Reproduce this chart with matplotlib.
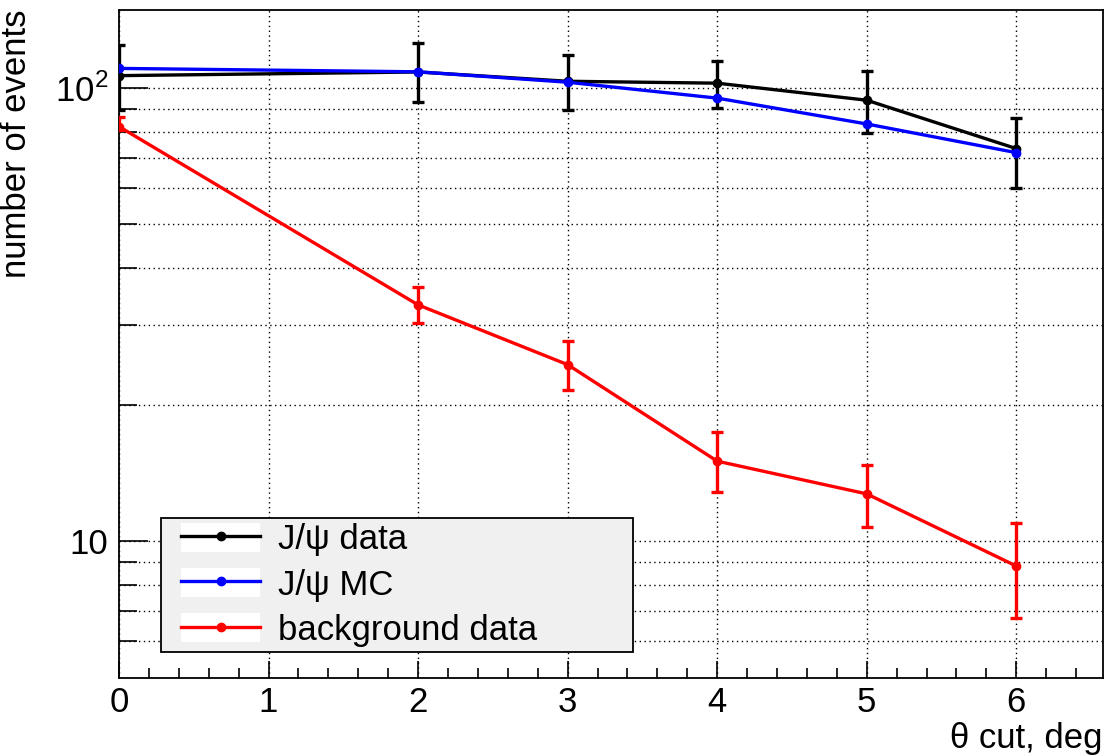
import numpy as np
import matplotlib
matplotlib.use("Agg")
import matplotlib.pyplot as plt
from matplotlib.lines import Line2D
from matplotlib.patches import Patch
from matplotlib.legend_handler import HandlerTuple
from matplotlib.ticker import FixedLocator, FixedFormatter, MultipleLocator, NullFormatter

plt.rcParams['font.family'] = ['Liberation Sans', 'DejaVu Sans']
plt.rcParams['mathtext.fontset'] = 'custom'
plt.rcParams['mathtext.rm'] = 'Liberation Sans'

# theta cut values
theta = [0, 2, 3, 4, 5, 6]

# J/psi data
jpsi_data = [106.5, 108.5, 103.5, 102.5, 94.0, 73.5]
jpsi_data_up = [18.0, 17.0, 15.0, 12.5, 15.0, 12.3]
jpsi_data_dn = [17.0, 15.5, 14.0, 12.3, 14.6, 13.5]

# J/psi MC
jpsi_mc = [110.5, 108.6, 103.0, 95.0, 83.3, 72.0]

# background data
bkg_data = [82.2, 33.2, 24.5, 15.0, 12.7, 8.8]
bkg_up = [4.0, 3.1, 3.2, 2.4, 2.0, 2.15]
bkg_dn = [1.6, 2.9, 3.0, 2.15, 1.95, 2.05]

labels = ["J/\u03c8 data", "J/\u03c8 MC", "background data"]


class ShiftedTuple(HandlerTuple):
    # pushes the legend sample to the right, like ROOT does
    def __init__(self, shift, **kw):
        super().__init__(**kw)
        self.shift = shift

    def create_artists(self, legend, orig_handle, xdescent, ydescent, width, height, fontsize, trans):
        return super().create_artists(legend, orig_handle, xdescent - self.shift, ydescent,
                                      width - self.shift, height, fontsize, trans)


fig = plt.figure(figsize=(11.13, 7.55), dpi=100)
ax = fig.add_axes([119 / 1113, 77 / 755, 984 / 1113, 668 / 755])

lw = 2.4
ms = 6

ax.errorbar(theta, jpsi_data, yerr=[jpsi_data_dn, jpsi_data_up], color='black',
            lw=lw, marker='o', ms=ms, capsize=4, capthick=lw, elinewidth=lw, zorder=3)
ax.plot(theta, jpsi_mc, color='#0000ff', lw=lw, marker='o', ms=ms, zorder=4)
ax.errorbar(theta, bkg_data, yerr=[bkg_dn, bkg_up], color='#ff0000',
            lw=lw, marker='o', ms=ms, capsize=4, capthick=lw, elinewidth=lw, zorder=5)

ax.set_yscale('log')
ax.set_xlim(0, 6.58)
ax.set_ylim(4.98, 148.7)

ax.yaxis.set_major_locator(FixedLocator([10, 100]))
ax.yaxis.set_major_formatter(FixedFormatter(['10', '$10^{2}$']))
ax.yaxis.set_minor_locator(FixedLocator([6, 7, 8, 9, 20, 30, 40, 50, 60, 70, 80, 90]))
ax.yaxis.set_minor_formatter(NullFormatter())
ax.xaxis.set_major_locator(MultipleLocator(1))
ax.xaxis.set_minor_locator(MultipleLocator(0.2))

ax.tick_params(axis='both', which='both', direction='in', color='black',
               width=1.2, labelsize=25)
ax.tick_params(axis='y', which='major', length=21, pad=8)
ax.tick_params(axis='y', which='minor', length=13)
ax.tick_params(axis='x', which='major', length=12, pad=6)
ax.tick_params(axis='x', which='minor', length=7)

ax.grid(True, which='major', axis='x', color='black', ls=(0, (1, 2.5)), lw=1)
ax.grid(True, which='both', axis='y', color='black', ls=(0, (1, 2.5)), lw=1)
ax.set_axisbelow(True)

for s in ax.spines.values():
    s.set_linewidth(1.3)

ax.set_ylabel('number of events', fontsize=25, loc='top')
ax.yaxis.set_label_coords(-0.087, 1.0)
ax.set_xlabel('\u03b8 cut, deg', fontsize=25, loc='right')
ax.xaxis.set_label_coords(1.0, -0.066)

colors = ['black', '#0000ff', '#ff0000']
handles = []
for c in colors:
    bg = Patch(facecolor='white', edgecolor='none')
    ln = Line2D([], [], color=c, lw=lw, marker='o', ms=ms)
    handles.append((bg, ln))

fs_px = 25 * 100 / 72
leg = ax.legend(handles, labels, handler_map={tuple: ShiftedTuple(10.8, ndivide=1)},
                loc='lower left', bbox_to_anchor=(42 / 984, 26 / 668, 472 / 984, 135 / 668),
                mode='expand', fontsize=25, frameon=True, fancybox=False,
                facecolor='#f0f0f0', edgecolor='black', framealpha=1,
                borderpad=0.15, handlelength=(10.8 + 83) / fs_px, handleheight=0.9,
                handletextpad=18 / fs_px, labelspacing=0.34, borderaxespad=0)
leg.get_frame().set_linewidth(1.3)
leg.set_zorder(10)

fig.savefig('out.png', dpi=100)
